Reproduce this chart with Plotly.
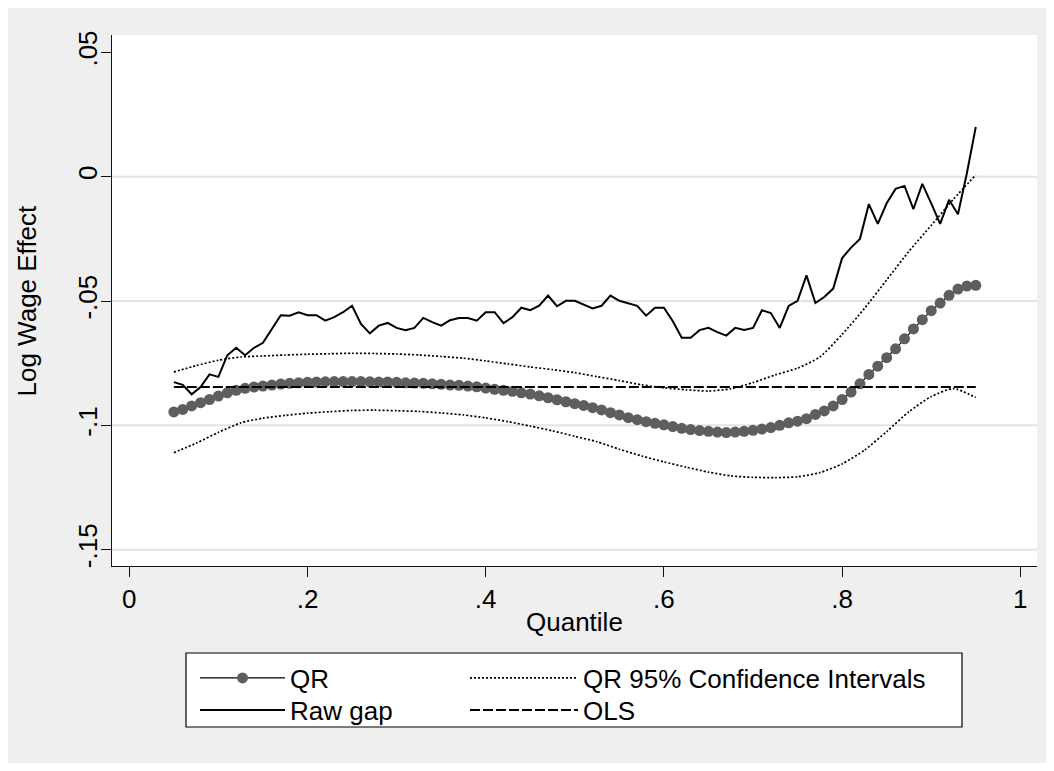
import plotly.graph_objects as go

# ---------------- data ----------------
QUANTILES = [0.05, 0.06, 0.07, 0.08, 0.09, 0.10, 0.11, 0.12, 0.13, 0.14,
             0.15, 0.16, 0.17, 0.18, 0.19, 0.20, 0.21, 0.22, 0.23, 0.24,
             0.25, 0.26, 0.27, 0.28, 0.29, 0.30, 0.31, 0.32, 0.33, 0.34,
             0.35, 0.36, 0.37, 0.38, 0.39, 0.40, 0.41, 0.42, 0.43, 0.44,
             0.45, 0.46, 0.47, 0.48, 0.49, 0.50, 0.51, 0.52, 0.53, 0.54,
             0.55, 0.56, 0.57, 0.58, 0.59, 0.60, 0.61, 0.62, 0.63, 0.64,
             0.65, 0.66, 0.67, 0.68, 0.69, 0.70, 0.71, 0.72, 0.73, 0.74,
             0.75, 0.76, 0.77, 0.78, 0.79, 0.80, 0.81, 0.82, 0.83, 0.84,
             0.85, 0.86, 0.87, 0.88, 0.89, 0.90, 0.91, 0.92, 0.93, 0.94, 0.95]

QR = [-0.0946, -0.0936, -0.0922, -0.0909, -0.0896, -0.0882, -0.0869, -0.0859, -0.0851, -0.0846,
      -0.0842, -0.0838, -0.0834, -0.0831, -0.0829, -0.0827, -0.0826, -0.0825, -0.0824, -0.0824,
      -0.0824, -0.0824, -0.0825, -0.0826, -0.0826, -0.0827, -0.0829, -0.0830, -0.0831, -0.0833,
      -0.0835, -0.0838, -0.0839, -0.0842, -0.0845, -0.0850, -0.0855, -0.0859, -0.0863, -0.0869,
      -0.0874, -0.0881, -0.0889, -0.0897, -0.0905, -0.0913, -0.0920, -0.0929, -0.0938, -0.0949,
      -0.0958, -0.0969, -0.0977, -0.0985, -0.0992, -0.0998, -0.1005, -0.1012, -0.1017, -0.1021,
      -0.1024, -0.1027, -0.1029, -0.1027, -0.1024, -0.1020, -0.1015, -0.1009, -0.1000, -0.0990,
      -0.0983, -0.0973, -0.0956, -0.0942, -0.0922, -0.0896, -0.0866, -0.0833, -0.0795, -0.0762,
      -0.0728, -0.0692, -0.0652, -0.0612, -0.0575, -0.0539, -0.0508, -0.0477, -0.0452, -0.0440, -0.0437]

RAW_GAP = [-0.0826, -0.0837, -0.0875, -0.0846, -0.0795, -0.0805, -0.0718, -0.0688, -0.0718, -0.0688,
           -0.0668, -0.0615, -0.0557, -0.0559, -0.0545, -0.0557, -0.0557, -0.0579, -0.0565, -0.0545,
           -0.0519, -0.0592, -0.0630, -0.0599, -0.0588, -0.0608, -0.0617, -0.0608, -0.0568, -0.0585,
           -0.0599, -0.0577, -0.0568, -0.0568, -0.0579, -0.0545, -0.0545, -0.0589, -0.0565, -0.0527,
           -0.0537, -0.0519, -0.0478, -0.0521, -0.0499, -0.0499, -0.0516, -0.0530, -0.0519, -0.0478,
           -0.0499, -0.0508, -0.0519, -0.0559, -0.0527, -0.0527, -0.0581, -0.0648, -0.0648, -0.0617,
           -0.0608, -0.0625, -0.0639, -0.0608, -0.0616, -0.0608, -0.0537, -0.0548, -0.0608, -0.0520,
           -0.0499, -0.0397, -0.0508, -0.0484, -0.0450, -0.0327, -0.0285, -0.0250, -0.0110, -0.0190,
           -0.0107, -0.0049, -0.0037, -0.0130, -0.0029, -0.0107, -0.0190, -0.0093, -0.0151, 0.0014, 0.0200]

CI_Q = [0.050, 0.075, 0.100, 0.125, 0.150, 0.175, 0.200, 0.225, 0.250, 0.275,
        0.300, 0.325, 0.350, 0.375, 0.400, 0.425, 0.450, 0.475, 0.500, 0.525,
        0.550, 0.575, 0.600, 0.625, 0.650, 0.675, 0.700, 0.725, 0.750, 0.775,
        0.800, 0.825, 0.850, 0.875, 0.900, 0.925, 0.950]

CI_UPPER = [-0.0785, -0.0760, -0.0738, -0.0725, -0.0721, -0.0717, -0.0714, -0.0712, -0.0710, -0.0711,
            -0.0713, -0.0717, -0.0723, -0.0730, -0.0741, -0.0753, -0.0765, -0.0776, -0.0788, -0.0804,
            -0.0820, -0.0837, -0.0849, -0.0857, -0.0862, -0.0853, -0.0828, -0.0797, -0.0770, -0.0725,
            -0.0634, -0.0530, -0.0415, -0.0300, -0.0196, -0.0090, 0.0007]

CI_LOWER = [-0.1110, -0.1072, -0.1028, -0.0990, -0.0971, -0.0960, -0.0951, -0.0945, -0.0940, -0.0939,
            -0.0941, -0.0944, -0.0950, -0.0958, -0.0970, -0.0985, -0.1003, -0.1022, -0.1044, -0.1066,
            -0.1096, -0.1123, -0.1147, -0.1168, -0.1188, -0.1203, -0.1209, -0.1210, -0.1207, -0.1190,
            -0.1155, -0.1100, -0.1025, -0.0945, -0.0884, -0.0852, -0.0888]

OLS = -0.0846
OLS_Q = [QUANTILES[0], QUANTILES[-1]]

X_TICKS = [0, 0.2, 0.4, 0.6, 0.8, 1]
X_TICK_TEXT = ["0", ".2", ".4", ".6", ".8", "1"]
Y_TICKS = [-0.15, -0.1, -0.05, 0, 0.05]
Y_TICK_TEXT = ["-.15", "-.1", "-.05", "0", ".05"]
GRID_VALUES = [-0.15, -0.1, -0.05, 0]

LABELS = ["QR", "QR 95% Confidence Intervals", "Raw gap", "OLS"]
X_TITLE = "Quantile"
Y_TITLE = "Log Wage Effect"

# ---------------- styling ----------------
FONT = "Liberation Sans, Arial, sans-serif"
FS = 26
BG = "#efefef"
MARKER_GREY = "#5e5e5e"

fig = go.Figure()

# QR: grey dots joined by a thin black line
fig.add_trace(go.Scatter(
    x=QUANTILES, y=QR, mode="lines+markers", name=LABELS[0],
    line=dict(color="black", width=1.2),
    marker=dict(color=MARKER_GREY, size=11, line=dict(width=0)),
    legend="legend"))

# Confidence intervals (dotted)
fig.add_trace(go.Scatter(
    x=CI_Q, y=CI_UPPER, mode="lines", name=LABELS[1],
    line=dict(color="black", width=1.7, dash="2px,2px", shape="spline", smoothing=0.6),
    legend="legend2"))
fig.add_trace(go.Scatter(
    x=CI_Q, y=CI_LOWER, mode="lines", name=LABELS[1], showlegend=False,
    line=dict(color="black", width=1.7, dash="2px,2px", shape="spline", smoothing=0.6)))

# Raw gap
fig.add_trace(go.Scatter(
    x=QUANTILES, y=RAW_GAP, mode="lines", name=LABELS[2],
    line=dict(color="black", width=2), legend="legend3"))

# OLS (dashed)
fig.add_trace(go.Scatter(
    x=OLS_Q, y=[OLS, OLS], mode="lines", name=LABELS[3],
    line=dict(color="black", width=2, dash="10px,3px"), legend="legend4"))

# ---------------- layout geometry (pixels -> paper) ----------------
W, H = 1054, 771
L, R, T, B = 112, 17, 35, 205
PW, PH = W - L - R, H - T - B


def px_x(px):
    return (px - L) / PW


def px_y(py):
    return (H - B - py) / PH


shapes = [
    # outer grey graph region
    dict(type="rect", xref="paper", yref="paper", layer="below",
         x0=px_x(8), x1=px_x(1046), y0=px_y(763), y1=px_y(8),
         fillcolor=BG, line=dict(width=0)),
    # white plot region
    dict(type="rect", xref="paper", yref="paper", layer="below",
         x0=0, x1=1, y0=0, y1=1, fillcolor="white", line=dict(width=0)),
    # legend box
    dict(type="rect", xref="paper", yref="paper", layer="below",
         x0=px_x(186), x1=px_x(962), y0=px_y(727), y1=px_y(653),
         fillcolor="white", line=dict(color="black", width=1.2)),
]
for g in GRID_VALUES:
    shapes.append(dict(type="line", xref="paper", yref="y", layer="below",
                       x0=0, x1=1, y0=g, y1=g,
                       line=dict(color="#e3e3e3", width=2)))

leg_common = dict(bgcolor="rgba(0,0,0,0)", borderwidth=0,
                  font=dict(family=FONT, size=FS, color="black"),
                  xanchor="left", yanchor="middle", orientation="v")
row1, row2 = px_y(678), px_y(710)
col1, col2 = px_x(195), px_x(465)

fig.update_layout(
    width=W, height=H,
    margin=dict(l=L, r=R, t=T, b=B, pad=0),
    paper_bgcolor="white", plot_bgcolor="white",
    font=dict(family=FONT, size=FS, color="black"),
    showlegend=True,
    shapes=shapes,
    legend=dict(x=col1, y=row1, itemwidth=85, **leg_common),
    legend2=dict(x=col2, y=row1, itemwidth=108, **leg_common),
    legend3=dict(x=col1, y=row2, itemwidth=85, **leg_common),
    legend4=dict(x=col2, y=row2, itemwidth=108, **leg_common),
    xaxis=dict(range=[-0.0194, 1.0187], tickvals=X_TICKS, ticktext=X_TICK_TEXT,
               showgrid=False, zeroline=False, showline=True, linecolor="#111111",
               linewidth=1.3, ticks="outside", ticklen=10, tickwidth=1.3,
               tickcolor="#111111", tickfont=dict(family=FONT, size=FS)),
    yaxis=dict(range=[-0.15656, 0.05699], tickvals=Y_TICKS, ticktext=Y_TICK_TEXT,
               showgrid=False, zeroline=False, showline=True, linecolor="#111111",
               linewidth=1.3, ticks="outside", ticklen=10, tickwidth=1.3,
               tickcolor="#111111", tickangle=-90, ticklabelstandoff=-7,
               tickfont=dict(family=FONT, size=FS)),
    annotations=[
        dict(text=X_TITLE, xref="paper", yref="paper", x=0.5, y=px_y(622),
             xanchor="center", yanchor="middle", showarrow=False,
             font=dict(family=FONT, size=FS, color="black")),
        dict(text=Y_TITLE, xref="paper", yref="paper", x=px_x(26), y=0.5,
             xanchor="center", yanchor="middle", textangle=-90, showarrow=False,
             font=dict(family=FONT, size=FS, color="black")),
    ],
)

fig.write_html("out.html")
